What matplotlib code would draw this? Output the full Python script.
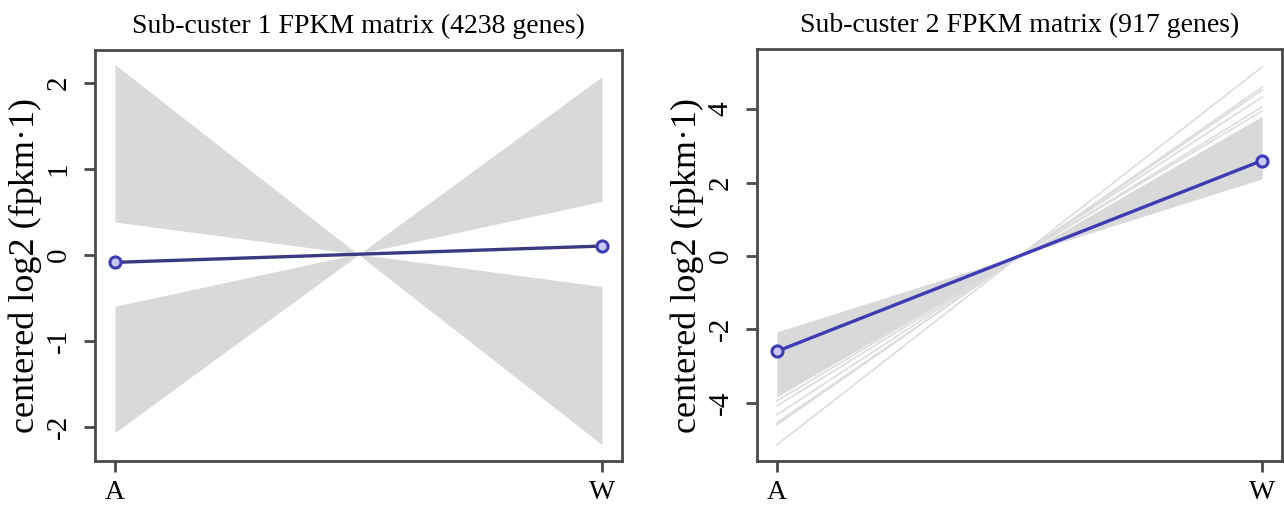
import numpy as np
import matplotlib.pyplot as plt

plt.rcParams['font.family'] = ['Liberation Serif', 'DejaVu Serif']
plt.rcParams['axes.unicode_minus'] = False

conditions = ['A', 'W']
xpos = [1, 2]

# sub-cluster 1
c1_title = 'Sub-custer 1 FPKM matrix (4238 genes)'
c1_mean = [-0.09, 0.10]
c1_band1_outer = [2.21, -2.21]
c1_band1_inner = [0.38, -0.37]
c1_band2_outer = [-2.07, 2.07]
c1_band2_inner = [-0.60, 0.62]

# sub-cluster 2
c2_title = 'Sub-custer 2 FPKM matrix (917 genes)'
c2_mean = [-2.6, 2.6]
c2_band_upper = [-2.07, 2.10]
c2_band_lower = [-3.84, 3.81]
c2_genes = [[-5.15, 5.15], [-4.60, 4.60], [-4.55, 4.52], [-4.33, 4.33],
            [-4.09, 4.06], [-3.95, 3.95]]

gray = '#d9d9d9'
blue = '#3c3cb4'
frame = '#4a4a4a'

fig = plt.figure(figsize=(12.84, 5.08), dpi=100)
ax1 = fig.add_axes([95/1284, 1-461/508, 527/1284, 411/508])
ax2 = fig.add_axes([757/1284, 1-461/508, 525/1284, 412/508])

ax1.fill_between(xpos, c1_band1_outer, c1_band1_inner, color=gray, lw=0)
ax1.fill_between(xpos, c1_band2_outer, c1_band2_inner, color=gray, lw=0)
ax1.plot(xpos, c1_mean, '-', color='#3a3a80', lw=2.4, zorder=3)
ax1.plot(xpos, c1_mean, 'o', mfc='#c8c8f0', mec=blue, mew=2.2, ms=8, zorder=4)
ax1.set_ylim(-2.40, 2.38)
ax1.set_yticks([-2, -1, 0, 1, 2])

for g in c2_genes:
    ax2.plot(xpos, g, '-', color='#dcdcdc', lw=1.2, zorder=1)
ax2.fill_between(xpos, c2_band_upper, c2_band_lower, color=gray, lw=0, zorder=2)
ax2.plot(xpos, c2_mean, '-', color=blue, lw=2.4, zorder=3)
ax2.plot(xpos, c2_mean, 'o', mfc='#c8c8f0', mec=blue, mew=2.2, ms=8, zorder=4)
ax2.set_ylim(-5.59, 5.64)
ax2.set_yticks([-4, -2, 0, 2, 4])

for ax, title, lx in [(ax1, c1_title, -0.10), (ax2, c2_title, -0.101)]:
    ax.set_xlim(0.959, 2.041)
    ax.set_xticks(xpos)
    ax.set_xticklabels(conditions, fontsize=20)
    ax.set_title(title, fontsize=20, pad=12)
    ax.set_ylabel('centered log2 (fpkm\u00b71)', fontsize=26)
    ax.yaxis.set_label_coords(lx, 0.475)
    ax.tick_params(axis='y', labelsize=21, length=8, width=2, color=frame, pad=9)
    ax.tick_params(axis='x', length=8, width=2, color=frame, pad=6)
    for lbl in ax.get_yticklabels():
        lbl.set_rotation(90)
        lbl.set_va('center')
    for s in ax.spines.values():
        s.set_color(frame)
        s.set_linewidth(2)

plt.savefig('out.png', dpi=100)
